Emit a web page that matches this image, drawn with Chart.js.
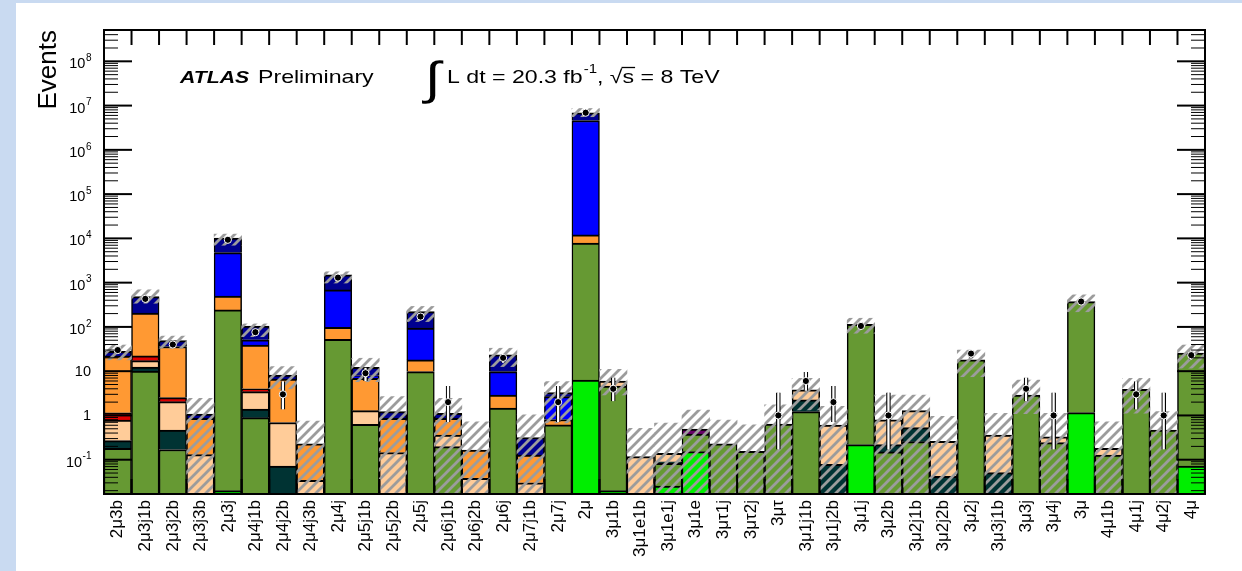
<!DOCTYPE html>
<html>
<head>
<meta charset="utf-8">
<script src="https://cdn.jsdelivr.net/npm/chart.js@4.4.0/dist/chart.umd.min.js"></script>
<style>
  html, body { margin: 0; padding: 0; width: 1242px; height: 571px; overflow: hidden; background: #c9daf1; }
  #wrap { position: absolute; left: 16px; top: 3px; width: 1226px; height: 568px; background: #fff; }
</style>
</head>
<body>
<div id="wrap"><canvas id="chart" width="1226" height="568"></canvas></div>
<script>
// categories (signal regions)
const categories = ['2μ3b','2μ3j1b','2μ3j2b','2μ3j3b','2μ3j','2μ4j1b','2μ4j2b','2μ4j3b','2μ4j','2μ5j1b',
  '2μ5j2b','2μ5j','2μ6j1b','2μ6j2b','2μ6j','2μ7j1b','2μ7j','2μ','3μ1b','3μ1e1b',
  '3μ1e1j','3μ1e','3μτ1j','3μτ2j','3μτ','3μ1j1b','3μ1j2b','3μ1j','3μ2b','3μ2j1b',
  '3μ2j2b','3μ2j','3μ3j1b','3μ3j','3μ4j','3μ','4μ1b','4μ1j','4μ2j','4μ'];

// stacked background components, bottom to top
const lightGreen = [0,0,0,0,0.02,0,0,0,0,0, 0,0,0,0,0,0,0,6.3,0.02,0, 0.0255,0.152,0,0,0,0,0,0.22,0,0, 0,0,0,0,0,1.16,0,0,0,0.072];
const olive      = [0.18,10.1,0.17,0,242,0.89,0,0,52.7,0.63, 0,9.8,0.197,0,1.46,0,0.61,7794,4.58,0, 0.0575,0.228,0.227,0.155,0.64,1.22,0,114.8,0.15,0.256, 0,18,0,2.9,0.243,371.8,0.128,3.9,0.47,25.4];
const teal       = [0.09,2.2,0.30,0,0,0.51,0.072,0,0,0, 0,0,0,0,0,0,0,0,0,0, 0.007,0,0,0,0,1.02,0.079,0,0.07,0.274, 0.042,0,0.051,0,0,0,0,0,0,0];
const peach      = [0.52,5.0,1.58,0.13,0,2.05,0.62,0.034,0,0.65, 0.145,0,0.163,0.038,0,0.030,0,0,1.4,0.117, 0.05,0,0,0,0,1.53,0.53,0,0.58,0.75, 0.218,0,0.309,0,0.087,0,0.052,0,0,0];
const red        = [0.36,4.8,0.48,0,0,0.55,0,0,0,0, 0,0,0,0,0,0,0,0,0,0, 0,0,0,0,0,0,0,0,0,0, 0,0,0,0,0,0,0,0,0,0];
const orange     = [20.85,182,33.5,0.73,258,35,5.9,0.193,45,5.6, 0.715,8.2,0.5,0.128,1.44,0.098,0.2,4200,0,0, 0,0,0,0,0,0,0,0,0,0, 0,0,0,0,0,0,0,0,0,0];
const blue       = [0,0,0,0,4280,12,0,0,588,1.1, 0,75.5,0,0,6.9,0,1.85,4588000,0,0, 0,0,0,0,0,0,0,0,0,0, 0,0,0,0,0,0,0,0,0,0];
const navy       = [6,280,13,0.22,5320,54,1.6,0,814,4.2, 0.36,128.5,0.26,0,13.5,0.19,0.64,2300000,0,0, 0,0,0,0,0,0,0,0,0,0, 0,0,0,0,0,0,0,0,0,0];
const purple     = [0,0,0,0,0,0,0,0,0,0, 0,0,0,0,0,0,0,0,0,0, 0,0.11,0,0,0,0,0,0,0,0, 0,0,0,0,0,0,0,0,0,0];

// uncertainty band (0.001 = reaches below the axis)
const bandLo = [18,343,33,0.001,7000,60,4,0.001,980,5.8, 0.001,132,0.001,0.001,12.7,0.001,0.68,5.6e6,2.9,0.001, 0.001,0.001,0.001,0.001,0.001,1.33,0.001,72,0.001,0.001, 0.001,7.5,0.001,1.1,0.001,220,0.001,1.12,0.001,11.7];
const bandHi = [39,690,62,2.45,12500,117,12.7,0.75,1760,19.6, 2.66,290,2.45,0.72,33,1.03,5.8,8.6e6,11,0.51, 0.67,1.33,0.79,0.61,1.73,6.9,1.6,157,2.9,2.9, 0.95,30,1.12,6.3,1.12,530,0.72,6.9,1.22,39];

// observed data and error bars
const dataVals = [30,430,40,null,9300,76,3,null,1300,9, null,171,2,null,20,null,2,6.9e6,4,null, null,null,null,null,1,6,2,105,1,null, null,25,null,4,1,375,null,3,1,23];
const dataLo   = [24.5,409,33.7,null,9200,67,1.37,null,1264,6, null,158,0.71,null,15.6,null,0.71,6.9e6,2.09,null, null,null,null,null,0.17,3.62,0.71,95,0.17,null, null,20,null,2.09,0.17,356,null,1.37,0.17,18.3];
const dataHi   = [35.5,451,46.3,null,9400,85,5.92,null,1336,12, null,184,4.64,null,24.4,null,4.64,6.9e6,7.16,null, null,null,null,null,3.3,9.58,4.64,115,3.3,null, null,30,null,7.16,3.3,394,null,5.92,3.3,27.7];

// y axis labels: base and exponent
const yTickValues = [0.1, 1, 10, 100, 1e3, 1e4, 1e5, 1e6, 1e7, 1e8];
const yTickBase   = ['10','1','10','10','10','10','10','10','10','10'];
const yTickExp    = ['-1','','','2','3','4','5','6','7','8'];

const stackOrder = [
  [lightGreen, '#00ee00'],
  [olive, '#669933'],
  [teal, '#003333'],
  [peach, '#ffcc99'],
  [red, '#dd0000'],
  [orange, '#ff9933'],
  [blue, '#0000ff'],
  [navy, '#000090'],
  [purple, '#660066']
];

const canvas = document.getElementById('chart');
const ctx = canvas.getContext('2d');

function makeHatch() {
  const p = 10;
  const c = document.createElement('canvas');
  c.width = p; c.height = p;
  const g = c.getContext('2d');
  g.strokeStyle = '#9c9c9c';
  g.lineWidth = 2.8;
  g.beginPath();
  g.moveTo(0, p); g.lineTo(p, 0);
  g.moveTo(-p / 2, p / 2); g.lineTo(p / 2, -p / 2);
  g.moveTo(p / 2, p * 1.5); g.lineTo(p * 1.5, p / 2);
  g.stroke();
  return ctx.createPattern(c, 'repeat');
}

// build floating segments from the component arrays
const floorVal = 0.001;
const cum = categories.map(() => 0);
const stackSets = stackOrder.map(([vals, color]) => ({
  type: 'bar',
  data: vals.map((v, i) => {
    if (!v) return null;
    const lo = cum[i] > 0 ? cum[i] : floorVal;
    cum[i] += v;
    return [lo, cum[i]];
  }),
  backgroundColor: color,
  borderColor: '#000',
  borderWidth: { top: 2, right: 1.5, bottom: 0, left: 1.5 },
  borderSkipped: false,
  order: 10,
  clip: 0
}));

const datasets = [
  {
    type: 'line',
    data: dataVals,
    showLine: false,
    pointRadius: 3.6,
    pointBackgroundColor: '#000',
    pointBorderColor: '#fff',
    pointBorderWidth: 1,
    order: 0
  },
  {
    type: 'bar',
    data: dataVals.map((v, i) => v == null ? null : [dataLo[i], dataHi[i]]),
    backgroundColor: '#fff',
    borderColor: '#000',
    borderWidth: { top: 0, right: 1.2, bottom: 0, left: 1.2 },
    borderSkipped: false,
    barThickness: 4,
    order: 1,
    clip: 0
  },
  {
    type: 'bar',
    data: bandLo.map((lo, i) => [lo, bandHi[i]]),
    backgroundColor: makeHatch(),
    borderWidth: 0,
    order: 2,
    clip: 0
  },
  ...stackSets
];

const decor = {
  id: 'decor',
  afterDatasetsDraw(chart) {
    const { ctx, chartArea: a, scales: { x, y } } = chart;
    ctx.save();
    ctx.strokeStyle = '#000';
    const seg = (x1, y1, x2, y2) => { ctx.beginPath(); ctx.moveTo(x1, y1); ctx.lineTo(x2, y2); ctx.stroke(); };
    // log ticks on left and right, pointing inwards
    for (let e = -2; e <= 8; e++) {
      for (let d = 1; d <= 9; d++) {
        const v = d * Math.pow(10, e);
        if (v < y.min || v > y.max) continue;
        const py = y.getPixelForValue(v);
        const len = d === 1 ? 28 : 14;
        ctx.lineWidth = d === 1 ? 2 : 1;
        seg(a.left, py, a.left + len, py);
        seg(a.right - len, py, a.right, py);
      }
    }
    // bin edge ticks top and bottom
    const half = (x.getPixelForValue(1) - x.getPixelForValue(0)) / 2;
    ctx.lineWidth = 2;
    for (let i = 0; i <= categories.length; i++) {
      const px = x.getPixelForValue(Math.min(i, categories.length - 1)) + (i === categories.length ? half : -half);
      seg(px, a.top, px, a.top + 15);
      seg(px, a.bottom - 15, px, a.bottom);
    }
    ctx.lineWidth = 2;
    ctx.strokeRect(a.left, a.top, a.right - a.left, a.bottom - a.top);
    ctx.restore();
  },
  afterDraw(chart) {
    const { ctx, chartArea: a, scales: { y } } = chart;
    // y labels with superscript exponents
    ctx.save();
    ctx.fillStyle = '#000';
    ctx.textBaseline = 'middle';
    ctx.textAlign = 'left';
    yTickValues.forEach((v, i) => {
      const py = y.getPixelForValue(v);
      ctx.font = '10px "Liberation Sans"';
      const ew = yTickExp[i] ? ctx.measureText(yTickExp[i]).width : 0;
      ctx.font = '14.5px "Liberation Sans"';
      const bw = ctx.measureText(yTickBase[i]).width;
      const right = a.left - 13;
      const bx = right - ew - bw;
      ctx.fillText(yTickBase[i], bx, py + (yTickExp[i] ? 3 : 1));
      if (yTickExp[i]) {
        ctx.font = '10px "Liberation Sans"';
        ctx.fillText(yTickExp[i], bx + bw + 0.5, py - 3);
      }
    });
    ctx.restore();

    const sx = 1.25;
    const put = (text, x, yb, font) => {
      ctx.save();
      ctx.font = font;
      ctx.fillStyle = '#000';
      ctx.textBaseline = 'alphabetic';
      ctx.translate(x, yb);
      ctx.scale(sx, 1);
      ctx.fillText(text, 0, 0);
      const w = ctx.measureText(text).width * sx;
      ctx.restore();
      return x + w;
    };
    put('ATLAS', 164, 80, 'italic bold 17px "Liberation Sans"');
    put('Preliminary', 242, 80, '18.5px "Liberation Sans"');
    put('∫', 409, 91, '46px "Liberation Sans"');
    let cx = put('L dt = 20.3 fb', 431, 80, '18.5px "Liberation Sans"');
    cx = put('-1', cx + 1, 70, '12px "Liberation Sans"');
    cx = put(', ', cx, 80, '18.5px "Liberation Sans"');
    cx = put('√', cx, 80, '18.5px "Liberation Sans"');
    const sStart = cx;
    cx = put('s', cx, 80, '18.5px "Liberation Sans"');
    ctx.save();
    ctx.strokeStyle = '#000';
    ctx.lineWidth = 1.3;
    ctx.beginPath();
    ctx.moveTo(sStart - 1, 64.5);
    ctx.lineTo(cx + 1, 64.5);
    ctx.stroke();
    ctx.restore();
    put(' = 8 TeV', cx, 80, '18.5px "Liberation Sans"');
  }
};

new Chart(ctx, {
  data: { labels: categories, datasets },
  options: {
    responsive: false,
    animation: false,
    devicePixelRatio: 1,
    events: [],
    layout: { padding: { left: 0, top: 27, right: 37, bottom: 0 } },
    datasets: { bar: { barPercentage: 1, categoryPercentage: 1 } },
    plugins: { legend: { display: false }, tooltip: { enabled: false } },
    scales: {
      x: {
        stacked: true,
        offset: true,
        grid: { display: false, drawTicks: false },
        border: { display: false },
        ticks: {
          autoSkip: false, minRotation: 90, maxRotation: 90, padding: 6, color: '#000',
          font: { family: 'Liberation Sans', size: 17 }
        },
        afterFit: s => { s.height = 77; }
      },
      y: {
        type: 'logarithmic',
        min: 0.0168,
        max: 5.1e8,
        stacked: false,
        grid: { display: false, drawTicks: false },
        border: { display: false },
        ticks: { display: false },
        title: {
          display: true, text: 'Events', align: 'end', color: '#000',
          font: { family: 'Liberation Sans', size: 26 },
          padding: { top: 17, bottom: 0 }
        },
        afterFit: s => { s.width = 88; }
      }
    }
  },
  plugins: [decor]
});
</script>
</body>
</html>
